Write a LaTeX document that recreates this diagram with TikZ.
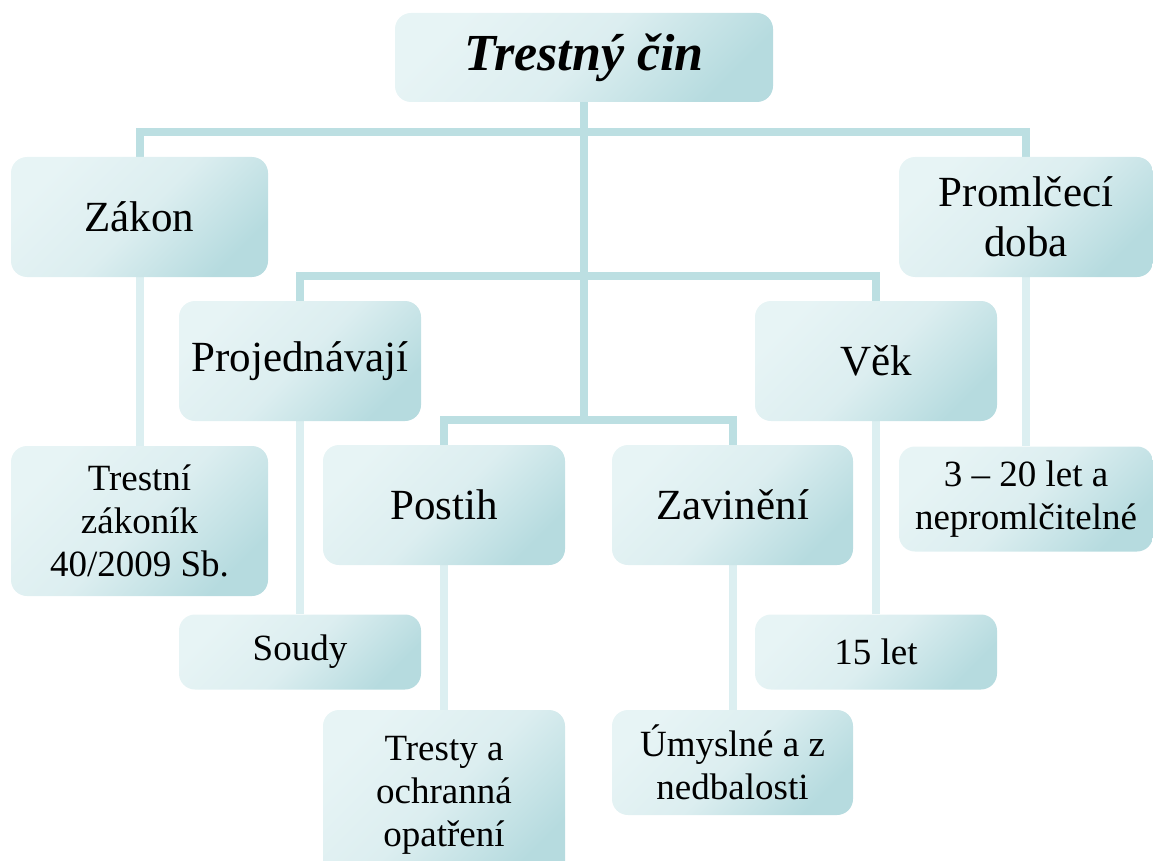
\documentclass[tikz,border=0pt]{standalone}
\usepackage{fontspec}
\setmainfont{Liberation Serif}
\usetikzlibrary{backgrounds}
\definecolor{boxlight}{HTML}{E7F4F5}
\definecolor{boxmid}{HTML}{DCEEF0}
\definecolor{boxdark}{HTML}{B6DBDF}
\definecolor{buscol}{HTML}{BCDFE2}
\definecolor{dropcol}{HTML}{DCEFF1}
\tikzset{
  box/.style={rounded corners=16pt, inner sep=2pt, align=center, text=black,
    top color=boxlight, bottom color=boxdark, middle color=boxmid, shading angle=45},
  big/.style={box, font=\fontsize{43}{50}\selectfont},
  small/.style={box, font=\fontsize{37}{43}\selectfont},
  bus/.style={draw=buscol, line width=8pt, line join=miter},
  drop/.style={draw=dropcol, line width=8pt}
}
\begin{document}
\begin{tikzpicture}[x=1pt,y=-1pt]
\useasboundingbox (0,0) rectangle (1153,861);
% level 0
\node[box, font=\fontsize{52}{58}\selectfont\bfseries\itshape, minimum width=378pt, minimum height=89pt] (root) at (584,57.5) {Trestný čin};
% level 1
\node[big, minimum width=257pt, minimum height=120pt] (zakon) at (139.5,217) {Zákon};
\node[big, minimum width=254pt, minimum height=120pt] (prom) at (1026,217) {Promlčecí\\doba};
\node[big, minimum width=242pt, minimum height=120pt] (proj) at (300,361) {Projednávají};
\node[big, minimum width=242pt, minimum height=120pt] (vek) at (876,361) {Věk};
\node[big, minimum width=242pt, minimum height=120pt] (postih) at (444,505) {Postih};
\node[big, minimum width=241pt, minimum height=120pt] (zavin) at (732.5,505) {Zavinění};
% level 2
\node[small, minimum width=257pt, minimum height=150pt] (tz) at (139.5,521) {Trestní\\zákoník\\40/2009 Sb.};
\node[small, minimum width=254pt, minimum height=105pt] (let) at (1026,499) {3 – 20 let a\\nepromlčitelné};
\node[small, minimum width=242pt, minimum height=75pt] (soudy) at (300,652) {Soudy};
\node[small, minimum width=242pt, minimum height=75pt] (patnact) at (876,652) {15 let};
\node[small, minimum width=242pt, minimum height=170pt] (tresty) at (444,795) {Tresty a\\ochranná\\opatření};
\node[small, minimum width=241pt, minimum height=105pt] (umysl) at (732.5,762.5) {Úmyslné a z\\nedbalosti};
% junctions
\coordinate (j1) at (584,132);
\coordinate (j2) at (584,276);
\coordinate (j3) at (584,420);
\begin{scope}[on background layer]
\draw[bus] (root.south) -- (j3);
\draw[bus] (zakon.north) |- (j1);
\draw[bus] (prom.north) |- (j1);
\draw[bus] (proj.north) |- (j2);
\draw[bus] (vek.north) |- (j2);
\draw[bus] (postih.north) |- (j3);
\draw[bus] (zavin.north) |- (j3);
\draw[drop] (zakon.south) -- (tz.north);
\draw[drop] (prom.south) -- (let.north);
\draw[drop] (proj.south) -- (soudy.north);
\draw[drop] (vek.south) -- (patnact.north);
\draw[drop] (postih.south) -- (tresty.north);
\draw[drop] (zavin.south) -- (umysl.north);
\end{scope}
\end{tikzpicture}
\end{document}
